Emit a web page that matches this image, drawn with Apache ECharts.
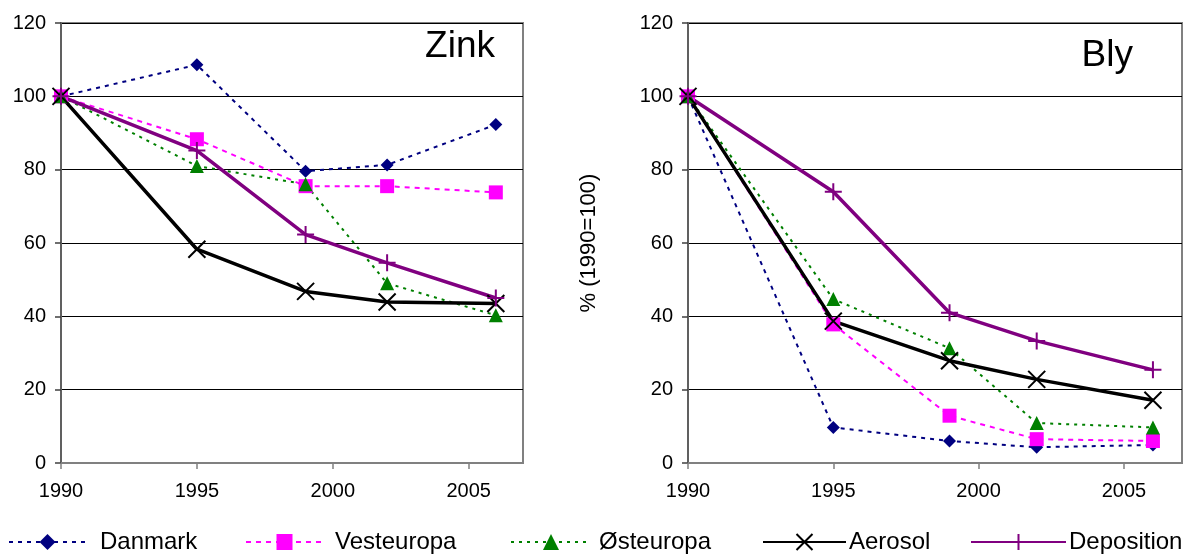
<!DOCTYPE html>
<html>
<head>
<meta charset="utf-8">
<script src="https://cdn.jsdelivr.net/npm/echarts@6/dist/echarts.min.js"></script>
<style>
html,body{margin:0;padding:0;background:#fff;}
#chart{width:1183px;height:560px;}
</style>
</head>
<body>
<div id="chart"></div>
<script>
var years = [1990, 1995, 1999, 2002, 2006];
var xTicks = [1990, 1995, 2000, 2005];
var seriesNames = ['Danmark', 'Vesteuropa', 'Østeuropa', 'Aerosol', 'Deposition'];

var zinkDanmark    = [100, 108.6, 79.6, 81.3, 92.3];
var zinkVesteuropa = [100, 88.3, 75.5, 75.5, 73.8];
var zinkOsteuropa  = [100, 81, 76, 49, 40.3];
var zinkAerosol    = [100, 58.3, 46.8, 43.9, 43.5];
var zinkDeposition = [100, 85.2, 62.3, 54.6, 45];

var blyDanmark    = [100, 9.7, 6, 4.3, 4.9];
var blyVesteuropa = [100, 37.8, 12.9, 6.5, 6];
var blyOsteuropa  = [100, 44.7, 31.3, 10.9, 9.7];
var blyAerosol    = [100, 38.7, 27.9, 22.8, 17.1];
var blyDeposition = [100, 74, 41, 33.3, 25.4];

var FONT = '"Liberation Sans", Arial, sans-serif';

function pairs(vals) { return years.map(function (y, i) { return [y, vals[i]]; }); }

var styles = {
  'Danmark':    { color: '#000080', width: 2, type: [4, 5], symbol: 'diamond', size: 13 },
  'Vesteuropa': { color: '#FF00FF', width: 2, type: [5, 5], symbol: 'rect', size: 14 },
  'Østeuropa':  { color: '#008000', width: 2, type: [3, 5], symbol: 'triangle', size: 14 },
  'Aerosol':    { color: '#000000', width: 3.5, type: 'solid', symbol: 'path://M0,0L10,10M10,0L0,10', size: 17, stroke: 2 },
  'Deposition': { color: '#800080', width: 3.5, type: 'solid', symbol: 'path://M5,0L5,10M0,5L10,5', size: 17, stroke: 2 }
};

function mkSeries(name, vals, idx) {
  var s = styles[name];
  var it = { color: s.color };
  if (s.stroke) { it.borderColor = s.color; it.borderWidth = s.stroke; }
  return {
    name: name, type: 'line', xAxisIndex: idx, yAxisIndex: idx,
    data: pairs(vals),
    symbol: s.symbol, symbolSize: s.size, showAllSymbol: true,
    lineStyle: { color: s.color, width: s.width, type: s.type },
    itemStyle: it,
    emphasis: { disabled: true },
    animation: false
  };
}

function xAxis(idx) {
  return {
    type: 'value', gridIndex: idx, min: 1990, max: 2007, interval: 5,
    axisLine: { show: true, lineStyle: { color: '#808080', width: 2 } },
    axisTick: { show: true, inside: false, length: 6, customValues: xTicks, lineStyle: { color: '#808080', width: 1.5 } },
    axisLabel: { customValues: xTicks, margin: 18, color: '#000', fontSize: 20, fontFamily: FONT,
      formatter: function (v) { return String(v); } },
    splitLine: { show: false }
  };
}
function yAxis(idx, name) {
  var a = {
    type: 'value', gridIndex: idx, min: 0, max: 120, interval: 20,
    axisLine: { show: true, lineStyle: { color: '#606060', width: 2 } },
    axisTick: { show: true, inside: false, length: 6, lineStyle: { color: '#404040', width: 1.5 } },
    axisLabel: { margin: 15, color: '#000', fontSize: 20, fontFamily: FONT },
    splitLine: { show: true, lineStyle: { color: '#000', width: 1 } }
  };
  if (name) {
    a.name = name; a.nameLocation = 'middle'; a.nameRotate = 90; a.nameGap = 88;
    a.nameTextStyle = { color: '#000', fontSize: 22, fontFamily: FONT };
  }
  return a;
}

var legendPos = [
  { name: 'Danmark', left: 8, w: 77, gap: 14 },
  { name: 'Vesteuropa', left: 245, w: 77, gap: 12 },
  { name: 'Østeuropa', left: 510, w: 80, gap: 8 },
  { name: 'Aerosol', left: 762, w: 83, gap: 3 },
  { name: 'Deposition', left: 970, w: 95, gap: 3 }
];

var option = {
  backgroundColor: '#fff',
  animation: false,
  title: [
    { text: 'Zink', right: 688, top: 28, padding: 0, textStyle: { fontSize: 37, fontWeight: 'normal', color: '#000', fontFamily: FONT } },
    { text: 'Bly', right: 50, top: 37, padding: 0, textStyle: { fontSize: 37, fontWeight: 'normal', color: '#000', fontFamily: FONT } }
  ],
  grid: [
    { left: 61, top: 23, width: 462, height: 440, show: true, borderColor: '#808080', borderWidth: 2, backgroundColor: '#fff' },
    { left: 688, top: 23, width: 494, height: 440, show: true, borderColor: '#808080', borderWidth: 2, backgroundColor: '#fff' }
  ],
  xAxis: [xAxis(0), xAxis(1)],
  yAxis: [yAxis(0), yAxis(1, '% (1990=100)')],
  legend: legendPos.map(function (l) {
    return {
      data: [l.name], left: l.left, top: 530, itemWidth: l.w, itemHeight: 20, itemGap: 0,
      padding: 0, textStyle: { fontSize: 24, color: '#000', fontFamily: FONT, padding: [0, 0, 0, l.gap - 5] },
      selectedMode: false
    };
  }),
  series: [
    mkSeries('Danmark', zinkDanmark, 0),
    mkSeries('Vesteuropa', zinkVesteuropa, 0),
    mkSeries('Østeuropa', zinkOsteuropa, 0),
    mkSeries('Aerosol', zinkAerosol, 0),
    mkSeries('Deposition', zinkDeposition, 0),
    mkSeries('Danmark', blyDanmark, 1),
    mkSeries('Vesteuropa', blyVesteuropa, 1),
    mkSeries('Østeuropa', blyOsteuropa, 1),
    mkSeries('Aerosol', blyAerosol, 1),
    mkSeries('Deposition', blyDeposition, 1)
  ]
};

var chart = echarts.init(document.getElementById('chart'), null, { renderer: 'canvas' });
chart.setOption(option);
</script>
</body>
</html>
